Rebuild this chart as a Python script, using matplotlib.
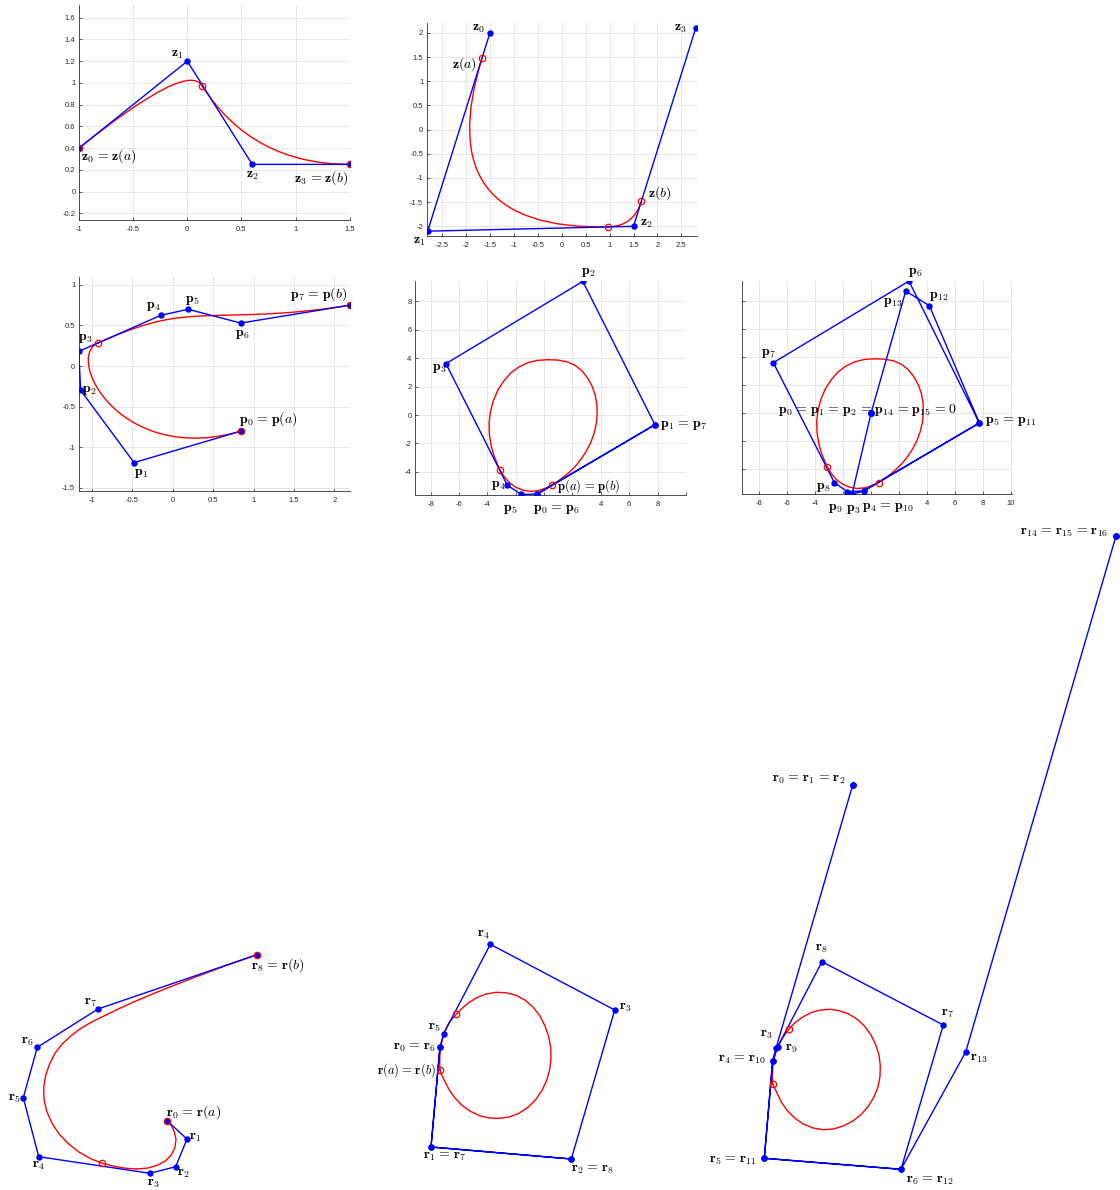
import numpy as np
import matplotlib.pyplot as plt
from matplotlib.path import Path
from matplotlib.patches import PathPatch
from matplotlib.bezier import BezierSegment

plt.rcParams['mathtext.fontset'] = 'cm'
plt.rcParams['font.family'] = ['Liberation Sans', 'DejaVu Sans']

BLUE = '#0000ff'
RED = '#ff0000'
LFS = 10

# ---- panel 1: control points z0..z3, knot point on z1z2
z1_x = [-1.0, 0.0, 0.6, 1.5]
z1_y = [0.4, 1.2, 0.25, 0.25]
z1_knot = (0.135, 0.975)

# ---- panel 2
z2_x = [-1.5, -2.8, 1.5, 2.8]
z2_y = [2.0, -2.1, -2.0, 2.1]
z2_pts_x = [-1.66, 0.975, 1.665]   # z(a), knot, z(b)
z2_pts_y = [1.49, -2.01, -1.485]

# ---- panel 3
p3_x = [0.85, -0.48, -1.14, -1.165, -0.15, 0.19, 0.84, 2.19]
p3_y = [-0.8, -1.19, -0.30, 0.18, 0.625, 0.70, 0.53, 0.75]
p3_knot = (-0.93, 0.283)

# ---- panel 4 (closed, p6 = p0, p7 = p1)
p4_x = [-0.49, 7.81, 2.73, -6.92, -2.59, -1.60, -0.49, 7.81]
p4_y = [-5.56, -0.68, 9.41, 3.62, -4.95, -5.59, -5.56, -0.68]
loop_circ_x = [0.54, -3.11]
loop_circ_y = [-4.95, -3.87]
loop_x = [0.541, 0.941, 1.364, 1.788, 2.211, 2.611, 2.964, 3.270, 3.505, 3.670,
          3.740, 3.717, 3.599, 3.387, 3.082, 2.682, 2.188, 1.600, 0.941, 0.235,
          -0.471, -1.153, -1.788, -2.352, -2.846, -3.270, -3.576, -3.787,
          -3.881, -3.858, -3.740, -3.529, -3.246, -3.105, -2.846, -2.470,
          -2.023, -1.529, -0.988, -0.447, 0.071, 0.541]
loop_y = [-4.930, -4.671, -4.366, -4.014, -3.592, -3.099, -2.559, -1.972,
          -1.338, -0.657, 0.047, 0.751, 1.408, 2.019, 2.582, 3.099, 3.498,
          3.756, 3.873, 3.897, 3.850, 3.685, 3.380, 2.958, 2.394, 1.737, 1.009,
          0.235, -0.563, -1.362, -2.136, -2.887, -3.568, -3.873, -4.296,
          -4.742, -5.070, -5.282, -5.376, -5.329, -5.164, -4.930]

# ---- panel 5 (p0..p15)
p5_x = [0, 0, 0, -1.36, -0.52, 7.74, 2.71, -6.98, -2.62, -1.69, -0.52, 7.74,
        4.17, 2.48, 0, 0]
p5_y = [0, 0, 0, -5.79, -5.55, -0.69, 9.45, 3.62, -4.95, -5.60, -5.55, -0.69,
        7.69, 8.74, 0, 0]

# ---- bottom row (no axes), arbitrary units
r6_x = [167.3, 187.0, 175.7, 150.0, 38.7, 23.3, 37.3, 98.0, 257.0]
r6_y = [69.0, 51.0, 23.3, 16.7, 33.3, 92.3, 142.7, 181.0, 235.3]
r6_knot = (102.3, 26.7)
c6_x = [167.3, 171.3, 174.3, 176.0, 175.0, 171.3, 165.3, 157.3, 148.0, 137.3,
        126.0, 114.0, 102.3, 90.7, 79.3, 68.7, 59.3, 52.0, 46.7, 44.0, 43.7,
        45.7, 49.7, 55.3, 62.7, 71.3, 81.3, 92.7, 105.3, 119.3, 134.7, 151.7,
        170.0, 189.3, 208.3, 226.7, 243.3, 257.0]
c6_y = [69.0, 64.7, 58.3, 50.7, 42.7, 35.0, 29.0, 24.7, 22.0, 21.0, 21.7, 23.7,
        26.7, 31.3, 37.7, 46.0, 55.7, 66.7, 78.7, 90.7, 102.7, 114.7, 126.3,
        137.3, 146.5, 154.5, 162.0, 168.5, 174.7, 181.5, 188.5, 195.7, 203.1,
        210.6, 217.8, 224.6, 230.5, 235.3]

r7_x = [440.0, 431.0, 571.3, 614.7, 490.3, 443.7, 440.0, 431.0, 571.3]
r7_y = [143.3, 43.0, 31.0, 180.0, 245.7, 156.3, 143.3, 43.0, 31.0]
r7_circ_x = [456.3, 440.0]
r7_circ_y = [175.7, 120.0]
c7_x = [440.0, 439.7, 440.0, 441.0, 442.7, 445.3, 449.3, 456.3, 461.7, 468.3,
        476.7, 486.0, 496.0, 506.0, 516.0, 525.3, 533.3, 540.0, 545.0, 548.7,
        550.7, 551.0, 549.7, 546.7, 542.0, 535.7, 528.0, 519.0, 509.3, 499.3,
        489.3, 479.7, 470.3, 462.0, 454.7, 448.7, 444.0, 441.3, 440.0]
c7_y = [120.0, 128.3, 136.7, 144.0, 151.7, 160.0, 168.0, 175.7, 181.3, 187.0,
        192.3, 196.0, 197.7, 197.3, 194.7, 189.7, 182.7, 174.0, 164.0, 153.3,
        142.3, 131.3, 120.3, 109.7, 99.7, 90.3, 82.7, 76.7, 73.0, 71.7, 72.0,
        74.3, 78.7, 84.7, 92.3, 101.0, 110.3, 116.0, 120.0]

r8_x = [852.7, 852.7, 852.7, 776.0, 772.7, 764.3, 901.0, 943.3, 822.0, 777.7,
        772.7, 764.3, 901.0, 965.7, 1116.0, 1116.0, 1116.0]
r8_y = [405.0, 405.0, 405.0, 141.7, 129.3, 31.7, 20.7, 165.0, 228.3, 143.3,
        129.3, 31.7, 20.7, 138.0, 654.0, 654.0, 654.0]
r8_circ_x = [789.0, 772.7]
r8_circ_y = [161.0, 106.0]
c8_x = [772.7, 772.3, 772.7, 773.7, 775.7, 778.7, 783.0, 789.0, 795.7, 803.3,
        811.7, 820.7, 830.0, 839.3, 848.7, 857.3, 864.7, 871.0, 875.7, 879.0,
        880.3, 880.0, 878.0, 874.0, 868.3, 861.3, 853.0, 843.3, 833.3, 823.0,
        813.0, 803.3, 794.7, 787.3, 781.3, 777.0, 774.0, 772.7]
c8_y = [106.0, 114.0, 122.0, 130.0, 137.3, 144.7, 152.7, 161.0, 168.0, 173.3,
        177.7, 180.0, 180.7, 179.3, 176.0, 170.7, 163.7, 155.0, 145.3, 135.0,
        124.3, 113.7, 103.0, 93.0, 83.7, 75.7, 69.0, 64.0, 61.0, 60.3, 62.0,
        66.0, 72.0, 79.3, 88.0, 97.0, 103.3, 106.0]

fig = plt.figure(figsize=(11.2, 11.9), dpi=100)


def make_axes(rect, xlim, ylim, xticks, yticks, xlabels=None, ylabels=None):
    ax = fig.add_axes(rect)
    ax.set_xlim(xlim)
    ax.set_ylim(ylim)
    ax.set_xticks(xticks)
    ax.set_yticks(yticks)
    ax.set_xticklabels(xlabels if xlabels is not None else ['%g' % t for t in xticks])
    ax.set_yticklabels(ylabels if ylabels is not None else ['%g' % t for t in yticks])
    ax.grid(True, color='#e6e6e6', lw=0.7)
    ax.set_axisbelow(True)
    for s in ['top', 'right']:
        ax.spines[s].set_visible(False)
    for s in ['left', 'bottom']:
        ax.spines[s].set_color('#303030')
        ax.spines[s].set_linewidth(0.6)
    ax.tick_params(direction='in', length=2.5, width=0.5, labelsize=5.5,
                   colors='#262626')
    ax.tick_params(axis='x', pad=4)
    ax.tick_params(axis='y', pad=2.5)
    return ax


def polygon(ax, x, y):
    ax.plot(x, y, color=BLUE, lw=1.0, zorder=3)
    ax.plot(x, y, 'o', color=BLUE, ms=3.6, zorder=4)


def circles(ax, x, y):
    ax.plot(x, y, 'o', mfc='none', mec=RED, ms=4.6, mew=0.9, zorder=5)


def curve(ax, x, y):
    ax.plot(x, y, color=RED, lw=1.0, zorder=2, solid_joinstyle='round',
            solid_capstyle='round')


def put(ax, x, y, s, dx, dy, ha='center', fs=LFS):
    s = s.replace(' = ', r'\hspace{0.1}=\hspace{0.1}')
    ax.annotate(s, xy=(x, y), xytext=(dx, dy), textcoords='offset pixels',
                ha=ha, va='center', fontsize=fs, annotation_clip=False,
                zorder=6)


def quad_spline(ax, verts):
    codes = [Path.MOVETO] + [Path.CURVE3] * (len(verts) - 1)
    ax.add_patch(PathPatch(Path(verts, codes), fill=False, ec=RED, lw=1.0,
                           zorder=2))


# ---------------- panel 1
ax = make_axes([0.07054, 0.81513, 0.24170, 0.18067], (-1, 1.5), (-0.262, 1.717),
               [-1, -0.5, 0, 0.5, 1, 1.5],
               [-0.2, 0, 0.2, 0.4, 0.6, 0.8, 1, 1.2, 1.4, 1.6])
quad_spline(ax, [(z1_x[0], z1_y[0]), (z1_x[1], z1_y[1]), z1_knot,
                 (z1_x[2], z1_y[2]), (z1_x[3], z1_y[3])])
polygon(ax, z1_x, z1_y)
circles(ax, [z1_x[0], z1_knot[0], z1_x[3]], [z1_y[0], z1_knot[1], z1_y[3]])
put(ax, z1_x[0], z1_y[0], r'$\mathbf{z}_0 = \mathbf{z}(a)$', 2, -8, 'left')
put(ax, z1_x[1], z1_y[1], r'$\mathbf{z}_1$', -10, 7)
put(ax, z1_x[2], z1_y[2], r'$\mathbf{z}_2$', 0, -11)
put(ax, z1_x[3], z1_y[3], r'$\mathbf{z}_3 = \mathbf{z}(b)$', -2, -14, 'right')

# ---------------- panel 2
ax = make_axes([0.38098, 0.80168, 0.24107, 0.17874], (-2.82, 2.82), (-2.2, 2.2),
               [-2.5, -2, -1.5, -1, -0.5, 0, 0.5, 1, 1.5, 2, 2.5],
               [-2, -1.5, -1, -0.5, 0, 0.5, 1, 1.5, 2])
quad_spline(ax, [(z2_pts_x[0], z2_pts_y[0]), (z2_x[1], z2_y[1]),
                 (z2_pts_x[1], z2_pts_y[1]), (z2_x[2], z2_y[2]),
                 (z2_pts_x[2], z2_pts_y[2])])
polygon(ax, z2_x, z2_y)
circles(ax, z2_pts_x, z2_pts_y)
put(ax, z2_x[0], z2_y[0], r'$\mathbf{z}_0$', -11, 5)
put(ax, z2_x[1], z2_y[1], r'$\mathbf{z}_1$', -8, -10)
put(ax, z2_x[2], z2_y[2], r'$\mathbf{z}_2$', 13, 3)
put(ax, z2_x[3], z2_y[3], r'$\mathbf{z}_3$', -15, 0)
put(ax, z2_pts_x[0], z2_pts_y[0], r'$\mathbf{z}(a)$', -18, -6)
put(ax, z2_pts_x[2], z2_pts_y[2], r'$\mathbf{z}(b)$', 18, 8)

# ---------------- panel 3
ax = make_axes([0.07027, 0.58739, 0.24223, 0.17958], (-1.165, 2.194), (-1.54, 1.094),
               [-1, -0.5, 0, 0.5, 1, 1.5, 2], [-1.5, -1, -0.5, 0, 0.5, 1])
pts = list(zip(p3_x, p3_y))
t = np.linspace(0, 1, 200)
for seg in (pts[:4] + [p3_knot], [p3_knot] + pts[4:]):
    c = BezierSegment(np.array(seg))(t)
    curve(ax, c[:, 0], c[:, 1])
polygon(ax, p3_x, p3_y)
circles(ax, [p3_x[0], p3_knot[0], p3_x[7]], [p3_y[0], p3_knot[1], p3_y[7]])
put(ax, p3_x[0], p3_y[0], r'$\mathbf{p}_0 = \mathbf{p}(a)$', -2, 12, 'left')
put(ax, p3_x[1], p3_y[1], r'$\mathbf{p}_1$', 7, -10)
put(ax, p3_x[2], p3_y[2], r'$\mathbf{p}_2$', 9, 0)
put(ax, p3_x[3], p3_y[3], r'$\mathbf{p}_3$', 7, 13)
put(ax, p3_x[4], p3_y[4], r'$\mathbf{p}_4$', -7, 9)
put(ax, p3_x[5], p3_y[5], r'$\mathbf{p}_5$', 4, 9)
put(ax, p3_x[6], p3_y[6], r'$\mathbf{p}_6$', 2, -11)
put(ax, p3_x[7], p3_y[7], r'$\mathbf{p}_7 = \mathbf{p}(b)$', -2, 11, 'right')

# ---------------- panel 4
ax = make_axes([0.37054, 0.58403, 0.24196, 0.18010], (-9.1, 10.0), (-5.63, 9.46),
               [-8, -6, -4, -2, 0, 2, 4, 6, 8, 10], [-4, -2, 0, 2, 4, 6, 8],
               xlabels=['-8', '-6', '-4', '', '', '', '4', '6', '8', ''])
curve(ax, loop_x, loop_y)
polygon(ax, p4_x, p4_y)
circles(ax, loop_circ_x, loop_circ_y)
put(ax, p4_x[2], p4_y[2], r'$\mathbf{p}_2$', 5.5, 9.6)
put(ax, p4_x[3], p4_y[3], r'$\mathbf{p}_3$', -7, -4.6)
put(ax, p4_x[1], p4_y[1], r'$\mathbf{p}_1 = \mathbf{p}_7$', 5.3, 0, 'left')
put(ax, p4_x[4], p4_y[4], r'$\mathbf{p}_4$', -9, 0)
put(ax, p4_x[5], p4_y[5], r'$\mathbf{p}_5$', -11, -14.4)
put(ax, p4_x[0], p4_y[0], r'$\mathbf{p}_0 = \mathbf{p}_6$', -4.3, -15, 'left')
put(ax, loop_circ_x[0], loop_circ_y[0], r'$\mathbf{p}(a) = \mathbf{p}(b)$', 5, -0.5,
    'left', fs=9.2)

# ---------------- panel 5
ax = make_axes([0.66223, 0.58462, 0.24107, 0.17950], (-9.24, 10.05), (-5.79, 9.48),
               [-8, -6, -4, -2, 0, 2, 4, 6, 8, 10], [-4, -2, 0, 2, 4, 6, 8],
               xlabels=['-8', '-6', '-4', '', '', '', '4', '6', '8', '10'],
               ylabels=[''] * 7)
curve(ax, loop_x, loop_y)
polygon(ax, p5_x, p5_y)
circles(ax, loop_circ_x, loop_circ_y)
put(ax, p5_x[6], p5_y[6], r'$\mathbf{p}_6$', 6.5, 9)
put(ax, p5_x[12], p5_y[12], r'$\mathbf{p}_{12}$', 9, 9.4)
put(ax, p5_x[13], p5_y[13], r'$\mathbf{p}_{13}$', -13, -10.7)
put(ax, p5_x[7], p5_y[7], r'$\mathbf{p}_7$', -4.6, 10)
put(ax, p5_x[0], p5_y[0],
    r'$\mathbf{p}_0 = \mathbf{p}_1 = \mathbf{p}_2 = \mathbf{p}_{14} = \mathbf{p}_{15} = 0$',
    -3.7, 3.6)
put(ax, p5_x[5], p5_y[5], r'$\mathbf{p}_5 = \mathbf{p}_{11}$', 5.7, 2, 'left')
put(ax, p5_x[8], p5_y[8], r'$\mathbf{p}_8$', -10.7, -4.3)
put(ax, p5_x[9], p5_y[9], r'$\mathbf{p}_9$', -12, -16)
put(ax, p5_x[3], p5_y[3], r'$\mathbf{p}_3$', 1, -15)
put(ax, p5_x[4], p5_y[4], r'$\mathbf{p}_4 = \mathbf{p}_{10}$', -2, -15.7, 'left')

# ---------------- bottom row
ax = fig.add_axes([0, 0, 1, 680 / 1190])
ax.set_xlim(0, 1120)
ax.set_ylim(0, 680)
ax.axis('off')

curve(ax, c6_x, c6_y)
polygon(ax, r6_x, r6_y)
circles(ax, [r6_x[0], r6_knot[0], r6_x[8]], [r6_y[0], r6_knot[1], r6_y[8]])
put(ax, r6_x[0], r6_y[0], r'$\mathbf{r}_0 = \mathbf{r}(a)$', -1.3, 9, 'left')
put(ax, r6_x[1], r6_y[1], r'$\mathbf{r}_1$', 8.5, 2.3)
put(ax, r6_x[2], r6_y[2], r'$\mathbf{r}_2$', 7.3, -5.8)
put(ax, r6_x[3], r6_y[3], r'$\mathbf{r}_3$', 3, -9.2)
put(ax, r6_x[4], r6_y[4], r'$\mathbf{r}_4$', 0, -8.3)
put(ax, r6_x[5], r6_y[5], r'$\mathbf{r}_5$', -9, 0)
put(ax, r6_x[6], r6_y[6], r'$\mathbf{r}_6$', -10, 6.3)
put(ax, r6_x[7], r6_y[7], r'$\mathbf{r}_7$', -7, 7.3)
put(ax, r6_x[8], r6_y[8], r'$\mathbf{r}_8 = \mathbf{r}(b)$', -6.3, -10.3, 'left')

curve(ax, c7_x, c7_y)
polygon(ax, r7_x, r7_y)
circles(ax, r7_circ_x, r7_circ_y)
put(ax, r7_x[4], r7_y[4], r'$\mathbf{r}_4$', -7, 10)
put(ax, r7_x[3], r7_y[3], r'$\mathbf{r}_3$', 11, 3.3)
put(ax, r7_x[5], r7_y[5], r'$\mathbf{r}_5$', -9.7, 6.2)
put(ax, r7_x[0], r7_y[0], r'$\mathbf{r}_0 = \mathbf{r}_6$', -4, 0, 'right')
put(ax, r7_circ_x[1], r7_circ_y[1], r'$\mathbf{r}(a) = \mathbf{r}(b)$', -4, 0, 'right',
    fs=9)
put(ax, r7_x[1], r7_y[1], r'$\mathbf{r}_1 = \mathbf{r}_7$', -7.7, -8.8, 'left')
put(ax, r7_x[2], r7_y[2], r'$\mathbf{r}_2 = \mathbf{r}_8$', -0.6, -10.2, 'left')

curve(ax, c8_x, c8_y)
polygon(ax, r8_x, r8_y)
circles(ax, r8_circ_x, r8_circ_y)
put(ax, r8_x[14], r8_y[14], r'$\mathbf{r}_{14} = \mathbf{r}_{15} = \mathbf{r}_{16}$', -7.7, 3.8, 'right')
put(ax, r8_x[0], r8_y[0], r'$\mathbf{r}_0 = \mathbf{r}_1 = \mathbf{r}_2$', -7, 6.3, 'right')
put(ax, r8_x[8], r8_y[8], r'$\mathbf{r}_8$', -0.8, 13.4)
put(ax, r8_x[7], r8_y[7], r'$\mathbf{r}_7$', 4.5, 11.7)
put(ax, r8_x[3], r8_y[3], r'$\mathbf{r}_3$', -9.2, 14)
put(ax, r8_x[9], r8_y[9], r'$\mathbf{r}_9$', 13.5, -1)
put(ax, r8_x[4], r8_y[4], r'$\mathbf{r}_4 = \mathbf{r}_{10}$', -6, 1.5, 'right')
put(ax, r8_x[13], r8_y[13], r'$\mathbf{r}_{13}$', 13, -6.3)
put(ax, r8_x[5], r8_y[5], r'$\mathbf{r}_5 = \mathbf{r}_{11}$', -7.6, -1.7, 'right')
put(ax, r8_x[6], r8_y[6], r'$\mathbf{r}_6 = \mathbf{r}_{12}$', 5, -10.7, 'left')

fig.savefig('out.png', dpi=100)
